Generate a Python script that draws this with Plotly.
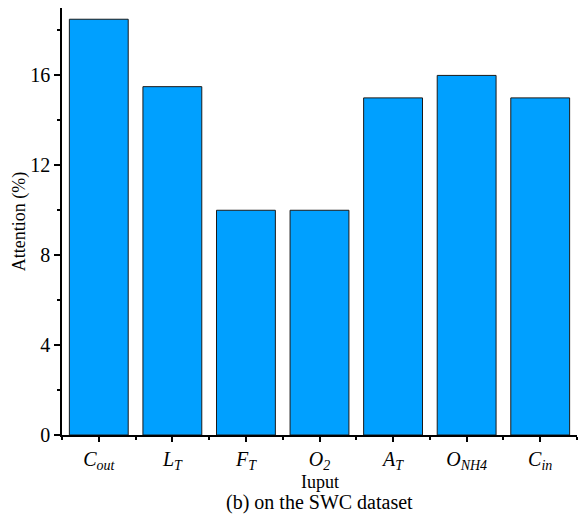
import plotly.graph_objects as go

categories = ["<i>C<sub>out</sub></i>", "<i>L<sub>T</sub></i>", "<i>F<sub>T</sub></i>",
              "<i>O<sub>2</sub></i>", "<i>A<sub>T</sub></i>", "<i>O<sub>NH4</sub></i>",
              "<i>C<sub>in</sub></i>"]
values = [18.5, 15.5, 10, 10, 15, 16, 15]
y_ticks = [0, 4, 8, 12, 16]

FONT = "Liberation Serif"
xpos = list(range(len(categories)))

fig = go.Figure(go.Bar(
    x=xpos, y=values, width=0.8,
    marker=dict(color="#00A0FF", line=dict(color="#1a1a1a", width=1)),
))

fig.update_layout(
    width=579, height=515,
    margin=dict(l=62, r=2, t=8, b=80),
    plot_bgcolor="white", paper_bgcolor="white",
    showlegend=False,
    font=dict(family=FONT, size=18, color="black"),
    xaxis=dict(
        range=[-0.5, 6.5], tickmode="array", tickvals=xpos, ticktext=categories,
        showline=True, linecolor="black", linewidth=1.5,
        ticks="outside", ticklen=5, tickwidth=1.5, tickcolor="black",
        minor=dict(tickmode="linear", tick0=-0.5, dtick=1, ticks="outside",
                   ticklen=3, tickwidth=1.5, tickcolor="black"),
        showgrid=False, zeroline=False,
        tickfont=dict(size=20),
    ),
    yaxis=dict(
        range=[0, 19], tickmode="array", tickvals=y_ticks,
        showline=True, linecolor="black", linewidth=1.5,
        ticks="outside", ticklen=6, tickwidth=1.5, tickcolor="black",
        minor=dict(tickmode="linear", tick0=2, dtick=4, ticks="outside",
                   ticklen=3, tickwidth=1.5, tickcolor="black"),
        showgrid=False, zeroline=False,
        title=dict(text="Attention (%)", font=dict(size=18), standoff=0),
        tickfont=dict(size=20),
    ),
    annotations=[
        dict(text="Iuput", xref="paper", yref="paper",
             x=0.5, y=-0.111, xanchor="center", yanchor="middle",
             showarrow=False, font=dict(size=18)),
        dict(text="(b) on the SWC dataset", xref="paper", yref="paper",
             x=0.5, y=-0.158, xanchor="center", yanchor="middle",
             showarrow=False, font=dict(size=20)),
    ],
)

fig.write_html("out.html")
